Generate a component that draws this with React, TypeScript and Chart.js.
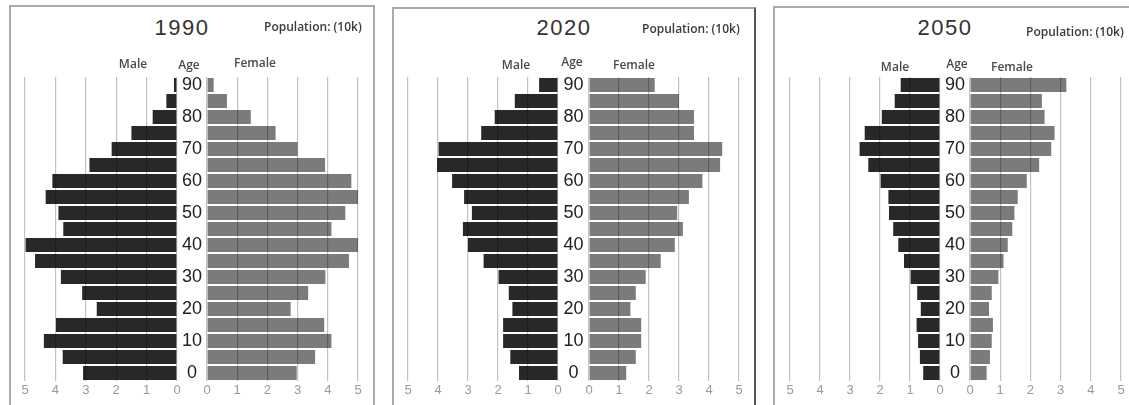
import React, { useEffect, useRef } from 'react';
import { Chart, registerables } from 'chart.js';

Chart.register(...registerables);

// ---------- data ----------
const ages = ['0', '5', '10', '15', '20', '25', '30', '35', '40', '45', '50', '55', '60', '65', '70', '75', '80', '85', '90'];
const years = ['1990', '2020', '2050'];

const male1990 = [3.09, 3.76, 4.38, 3.98, 2.64, 3.12, 3.82, 4.67, 4.98, 3.74, 3.9, 4.32, 4.1, 2.88, 2.15, 1.5, 0.8, 0.35, 0.1];
const female1990 = [2.97, 3.58, 4.12, 3.88, 2.77, 3.35, 3.92, 4.7, 5.0, 4.12, 4.58, 5.0, 4.78, 3.91, 3.0, 2.27, 1.45, 0.66, 0.22];

const male2020 = [1.3, 1.59, 1.83, 1.83, 1.52, 1.64, 1.98, 2.48, 3.0, 3.17, 2.87, 3.13, 3.53, 4.03, 3.98, 2.56, 2.11, 1.44, 0.63];
const female2020 = [1.24, 1.56, 1.74, 1.74, 1.38, 1.56, 1.89, 2.39, 2.86, 3.13, 2.94, 3.33, 3.78, 4.37, 4.44, 3.5, 3.5, 3.0, 2.19];

const male2050 = [0.56, 0.67, 0.73, 0.78, 0.64, 0.76, 0.98, 1.2, 1.39, 1.56, 1.7, 1.72, 1.98, 2.39, 2.68, 2.51, 1.94, 1.51, 1.31];
const female2050 = [0.55, 0.66, 0.72, 0.76, 0.63, 0.72, 0.94, 1.11, 1.25, 1.4, 1.47, 1.58, 1.88, 2.29, 2.69, 2.8, 2.47, 2.38, 3.19];

const axisMin = 0;
const axisMax = 5;
const axisStep = 1;

const unitLabel = 'Population: (10k)';
const maleLabel = 'Male';
const femaleLabel = 'Female';
const ageLabel = 'Age';

// ---------- styles / layout ----------
const MALE_COLOR = '#282828';
const FEMALE_COLOR = '#7b7b7b';
const GRID_COLOR = 'rgba(0,0,0,0.24)';
const PAD = 10;
const CANVAS_TOP = 70;
const PAD_TOP = 7;
const PLOT_H = 304;
const XAXIS_H = 22;
const AGE_FONT_SIZE = 18;

const panels = [
  {
    male: male1990, female: female1990,
    box: { left: 9, top: 5, width: 366, borderRight: '#aaa' },
    maleLeft: 25, maleRight: 177, femaleLeft: 207, femaleRight: 358,
    title: { x: 182, y: 28 }, unit: { x: 264, y: 27 },
    maleT: { x: 133, y: 64 }, ageT: { x: 189, y: 65 }, femaleT: { x: 255, y: 63 },
  },
  {
    male: male2020, female: female2020,
    box: { left: 392, top: 7, width: 364, borderRight: '#555' },
    maleLeft: 408, maleRight: 558, femaleLeft: 589, femaleRight: 739,
    title: { x: 564, y: 28 }, unit: { x: 642, y: 29 },
    maleT: { x: 516, y: 65 }, ageT: { x: 572, y: 62 }, femaleT: { x: 634, y: 65 },
  },
  {
    male: male2050, female: female2050,
    box: { left: 773, top: 6, width: 420, borderRight: '#aaa' },
    maleLeft: 790, maleRight: 940, femaleLeft: 970, femaleRight: 1121,
    title: { x: 945, y: 28 }, unit: { x: 1026, y: 32 },
    maleT: { x: 895, y: 67 }, ageT: { x: 957, y: 64 }, femaleT: { x: 1012, y: 67 },
  },
];

type HalfProps = {
  isMale: boolean;
  values: number[];
  left: number;
  width: number;
  axisWidth: number;
};

function HalfChart({ isMale, values, left, width, axisWidth }: HalfProps) {
  const ref = useRef<HTMLCanvasElement>(null);
  const height = PAD_TOP + PLOT_H + XAXIS_H;
  useEffect(() => {
    const chart = new Chart(ref.current as HTMLCanvasElement, {
      type: 'bar',
      data: {
        labels: ages,
        datasets: [
          {
            data: values,
            backgroundColor: isMale ? MALE_COLOR : FEMALE_COLOR,
            borderWidth: 0,
            barPercentage: 0.875,
            categoryPercentage: 1,
          },
        ],
      },
      options: {
        indexAxis: 'y',
        animation: false,
        responsive: false,
        maintainAspectRatio: false,
        events: [],
        layout: { padding: { left: isMale ? PAD : 0, right: PAD, top: PAD_TOP, bottom: 0 } },
        plugins: { legend: { display: false }, tooltip: { enabled: false }, title: { display: false } },
        scales: {
          x: {
            type: 'linear',
            min: axisMin,
            max: axisMax,
            reverse: isMale,
            ticks: {
              stepSize: axisStep,
              color: '#9a9a9a',
              padding: 2,
              font: { family: '"Liberation Sans", Arial, sans-serif', size: 13 },
            },
            grid: { color: GRID_COLOR, lineWidth: 1.2, drawTicks: false, z: 1 },
            border: { display: false },
            afterFit: (s: any) => {
              s.height = XAXIS_H;
              s.paddingLeft = 0;
              s.paddingRight = 0;
            },
          },
          y: {
            type: 'category',
            reverse: true,
            display: !isMale,
            grid: { display: false, drawTicks: false },
            border: { display: false },
            ticks: {
              autoSkip: false,
              crossAlign: 'center',
              padding: Math.max(0, axisWidth / 2 - 10),
              color: '#222',
              font: { family: '"Liberation Sans", Arial, sans-serif', size: AGE_FONT_SIZE },
              callback: (_v: any, i: number) => (Number(ages[i]) % 10 === 0 ? ages[i] : ''),
            },
            afterFit: (s: any) => {
              s.width = axisWidth;
              s.paddingTop = 0;
              s.paddingBottom = 0;
            },
          },
        },
      },
    } as any);
    return () => chart.destroy();
  }, [isMale, values, axisWidth]);
  return (
    <canvas
      ref={ref}
      width={width}
      height={height}
      style={{ position: 'absolute', left, top: CANVAS_TOP, width, height }}
    />
  );
}

const centered = (x: number, y: number): React.CSSProperties => ({
  position: 'absolute',
  left: x,
  top: y,
  transform: 'translate(-50%, -50%)',
  whiteSpace: 'nowrap',
  lineHeight: 1,
});

const smallFont: React.CSSProperties = {
  fontFamily: '"Open Sans", "Noto Sans", sans-serif',
  fontWeight: 600,
  fontSize: 12,
  color: '#4a4a4a',
};

export default function App() {
  return (
    <div
      style={{
        position: 'fixed',
        left: 0,
        top: 0,
        width: 1129,
        height: 405,
        overflow: 'hidden',
        background: '#fff',
      }}
    >
      {panels.map((p, i) => (
        <React.Fragment key={years[i]}>
          <div
            style={{
              position: 'absolute',
              left: p.box.left,
              top: p.box.top,
              width: p.box.width,
              height: 430,
              boxSizing: 'border-box',
              borderTop: '2px solid #aaa',
              borderLeft: '2px solid #aaa',
              borderRight: `2px solid ${p.box.borderRight}`,
            }}
          />
          <HalfChart
            isMale={true}
            values={p.male}
            left={p.maleLeft - PAD}
            width={p.maleRight - p.maleLeft + 2 * PAD}
            axisWidth={0}
          />
          <HalfChart
            isMale={false}
            values={p.female}
            left={p.maleRight}
            width={p.femaleRight - p.maleRight + PAD}
            axisWidth={p.femaleLeft - p.maleRight}
          />
          <div
            style={{
              ...centered(p.title.x, p.title.y),
              fontFamily: '"Liberation Sans", Arial, sans-serif',
              fontSize: 22,
              letterSpacing: 1.5,
              color: '#333',
            }}
          >
            {years[i]}
          </div>
          <div
            style={{
              ...smallFont,
              position: 'absolute',
              left: p.unit.x,
              top: p.unit.y,
              transform: 'translateY(-50%)',
              whiteSpace: 'nowrap',
              lineHeight: 1,
              color: '#3a3a3a',
            }}
          >
            {unitLabel}
          </div>
          <div style={{ ...centered(p.maleT.x, p.maleT.y), ...smallFont }}>{maleLabel}</div>
          <div style={{ ...centered(p.ageT.x, p.ageT.y), ...smallFont }}>{ageLabel}</div>
          <div style={{ ...centered(p.femaleT.x, p.femaleT.y), ...smallFont }}>{femaleLabel}</div>
        </React.Fragment>
      ))}
    </div>
  );
}
